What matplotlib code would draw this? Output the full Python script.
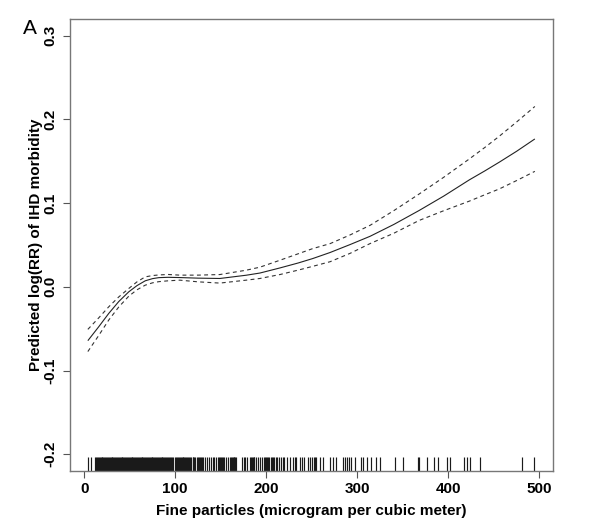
import matplotlib
matplotlib.use("Agg")
import matplotlib.pyplot as plt

plt.rcParams['font.family'] = ['Liberation Sans', 'DejaVu Sans']

# Fitted curve (mean) and confidence bounds
x_curve = [4, 16, 27, 38, 49, 58, 67, 75, 82, 92, 105, 125, 149, 178, 193, 215, 235, 251,
           270, 292, 314, 340, 368, 395, 423, 440, 456, 475, 495]
y_mean = [-0.0643, -0.0476, -0.0317, -0.0175, -0.0059, 0.0015, 0.0072, 0.0098, 0.0110, 0.0114,
          0.0111, 0.0104, 0.0100, 0.0139, 0.0165, 0.0226, 0.0285, 0.0338,
          0.0410, 0.0505, 0.0604, 0.0745, 0.0913, 0.1085, 0.1278, 0.1385, 0.1490, 0.1620, 0.1767]
y_upper = [-0.0508, -0.0370, -0.0238, -0.0120, -0.0019, 0.0060, 0.0119, 0.0135, 0.0142, 0.0148,
           0.0140, 0.0140, 0.0147, 0.0199, 0.0235, 0.0318, 0.0395, 0.0457,
           0.0516, 0.0620, 0.0735, 0.0910, 0.1110, 0.1310, 0.1528, 0.1665, 0.1800, 0.1970, 0.2155]
y_lower = [-0.0773, -0.0580, -0.0396, -0.0240, -0.0111, -0.0035, 0.0020, 0.0048, 0.0062, 0.0072,
           0.0080, 0.0060, 0.0045, 0.0080, 0.0100, 0.0147, 0.0200, 0.0245,
           0.0300, 0.0400, 0.0517, 0.0640, 0.0794, 0.0910, 0.1024, 0.1100, 0.1170, 0.1270, 0.1380]

# Rug of observed fine particle concentrations
rug_values = [4, 7, 12, 13, 14, 15, 16, 17, 18, 19, 20, 21, 22, 23, 24, 25, 26, 27, 28, 29, 30,
              31, 32, 33, 34, 35, 36, 37, 38, 39, 40, 41, 42, 43, 44, 45, 46, 47, 48, 49, 50,
              51, 52, 53, 54, 55, 56, 57, 58, 59, 60, 61, 62, 63, 64, 65, 66, 67, 68, 69, 70,
              71, 72, 73, 74, 75, 76, 77, 78, 79, 80, 81, 82, 83, 84, 85, 86, 87, 88, 89, 90,
              91, 92, 93, 94, 95, 96, 97, 100, 101, 102, 103, 104, 105, 106, 107, 108, 109, 110,
              111, 112, 113, 114, 115, 116, 117, 119, 120, 121, 122, 124, 125, 126, 127, 128,
              129, 130, 133, 135, 137, 139, 141, 143, 145, 147, 148, 149, 150, 151, 152, 154,
              156, 158, 160, 161, 162, 163, 164, 165, 166, 167, 173, 175, 177, 179, 182, 183,
              184, 185, 186, 187, 189, 191, 193, 195, 197, 199, 200, 201, 202, 203, 205, 206,
              207, 208, 211, 212, 214, 216, 218, 220, 223, 226, 229, 231, 233, 237, 239, 241,
              246, 248, 250, 252, 254, 255, 259, 262, 270, 273, 277, 284, 286, 289, 291, 293,
              297, 304, 306, 311, 315, 321, 325, 341, 350, 367, 368, 377, 384, 389, 399, 402,
              417, 421, 424, 435, 481, 494]

x_ticks = [0, 100, 200, 300, 400, 500]
x_tick_labels = ["0", "100", "200", "300", "400", "500"]
y_ticks = [-0.2, -0.1, 0.0, 0.1, 0.2, 0.3]
y_tick_labels = ["-0.2", "-0.1", "0.0", "0.1", "0.2", "0.3"]

fig = plt.figure(figsize=(5.95, 5.29), dpi=100)
ax = fig.add_axes([70 / 595, 1 - 471 / 529, (552.7 - 70) / 595, (471 - 19) / 529])

ax.plot(x_curve, y_mean, color='#222222', lw=0.8, solid_capstyle='butt')
ax.plot(x_curve, y_upper, color='#333333', lw=0.8, linestyle=(0, (3.5, 3)))
ax.plot(x_curve, y_lower, color='#333333', lw=0.8, linestyle=(0, (3.5, 3)))

for v in rug_values:
    ax.axvline(v, ymin=0, ymax=0.03, color='#1a1a1a', lw=0.85, solid_capstyle='butt')

ax.set_xlim(-15.6, 514.6)
ax.set_ylim(-0.22, 0.32)

ax.set_xticks(x_ticks)
ax.set_xticklabels(x_tick_labels, fontsize=11, fontweight='bold')
ax.set_yticks(y_ticks)
ax.set_yticklabels(y_tick_labels, fontsize=11, fontweight='bold', rotation=90, va='center')

ax.tick_params(axis='x', direction='out', length=5, width=0.8, color='#555555', pad=3)
ax.tick_params(axis='y', direction='out', length=5, width=0.8, color='#555555', pad=4)

for sp in ax.spines.values():
    sp.set_color('#777777')
    sp.set_linewidth(1.0)

ax.set_xlabel("Fine particles (microgram per cubic meter)", fontsize=11, fontweight='bold', labelpad=6)
ax.set_ylabel("Predicted log(RR) of IHD morbidity", fontsize=11, fontweight='bold', labelpad=0)

fig.text(23 / 595, 1 - 28 / 529, "A", fontsize=15, ha='left', va='center')

fig.savefig("out.png", dpi=100)
